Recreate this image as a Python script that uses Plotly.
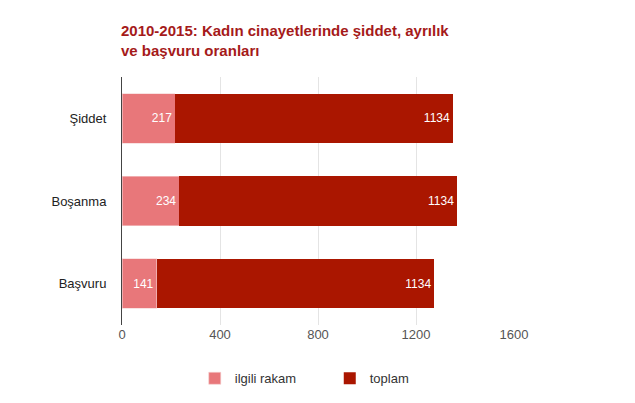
import plotly.graph_objects as go

# kategoriler ve degerler
kategoriler = ["Şiddet", "Boşanma", "Başvuru"]
ilgili_rakam = [217, 234, 141]
toplam = [1134, 1134, 1134]
x_ticks = [0, 400, 800, 1200, 1600]

fig = go.Figure()

fig.add_trace(go.Bar(
    y=kategoriler, x=ilgili_rakam, name="ilgili rakam", orientation="h",
    marker=dict(color="#e8777a", line=dict(width=0.6, color="#f5d0d0")),
    text=ilgili_rakam, textposition="inside", insidetextanchor="end",
    textfont=dict(color="white", size=12, family="Liberation Sans, Arial"),
))
fig.add_trace(go.Bar(
    y=kategoriler, x=toplam, name="toplam", orientation="h",
    marker=dict(color="#aa1600", line=dict(width=0)),
    text=toplam, textposition="inside", insidetextanchor="end",
    textfont=dict(color="white", size=12, family="Liberation Sans, Arial"),
))

# sayfa 8px kenar bosluguyla aciliyor, marjlar ona gore
fig.update_layout(
    width=635, height=403,
    barmode="stack", bargap=0.4,
    margin=dict(l=114, r=129, t=69, b=86),
    paper_bgcolor="white", plot_bgcolor="white",
    font=dict(family="Liberation Sans, Arial", size=12, color="#444"),
    title=dict(
        text="<b>2010-2015: Kadın cinayetlerinde şiddet, ayrılık<br>ve başvuru oranları</b>",
        x=113 / 635, xanchor="left", y=1 - 28 / 403, yanchor="top",
        font=dict(size=15, color="#a51a1a", family="Liberation Sans, Arial"),
    ),
    xaxis=dict(
        range=[0, 1600], tickvals=x_ticks, showgrid=True, gridcolor="#e4e4e4",
        gridwidth=1, zeroline=False, showline=False, automargin=False,
        tickfont=dict(size=13, color="#555"), ticks="",
    ),
    yaxis=dict(
        autorange="reversed", showline=True, linecolor="#444", linewidth=1,
        ticks="", ticklabelstandoff=12, automargin=False,
        tickfont=dict(size=13, color="#222"),
    ),
    legend=dict(
        orientation="h", x=0.53, xanchor="center", y=-0.215, yanchor="middle",
        font=dict(size=13, color="#333"), traceorder="normal", entrywidth=90,
    ),
)

fig.write_html("out.html")
